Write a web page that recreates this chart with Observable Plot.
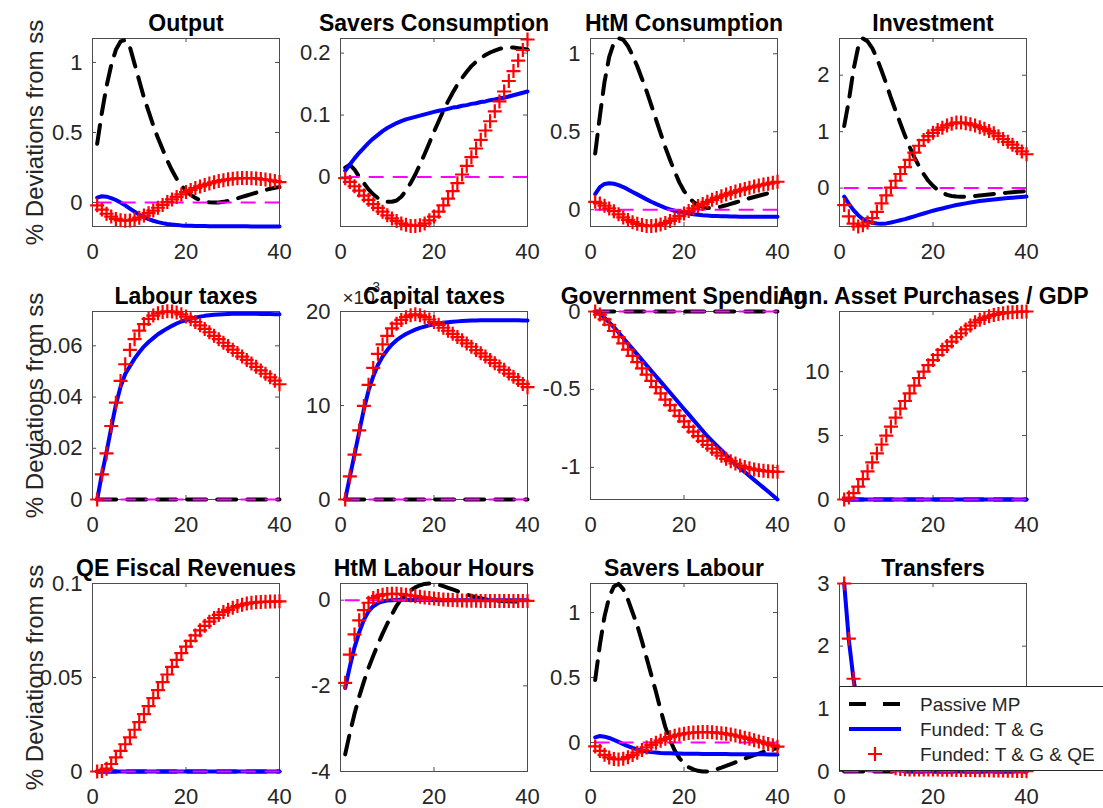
<!DOCTYPE html>
<html><head><meta charset="utf-8">
<script src="https://cdn.jsdelivr.net/npm/d3@7"></script>
<script src="https://cdn.jsdelivr.net/npm/@observablehq/plot@0.6"></script>
<style>
body{margin:0;background:#fff;}
#fig{position:relative;width:1103px;height:808px;overflow:hidden;background:#fff;font-family:"Liberation Sans",Arial,Helvetica,sans-serif;}
#fig svg.panel{position:absolute;overflow:visible;}
#legend{position:absolute;background:#fff;border:1px solid #262626;box-sizing:border-box;}
</style></head><body><div id="fig"></div><script>
// ---------- data ----------
const periods = [1,2,3,4,5,6,7,8,9,10,11,12,13,14,15,16,17,18,19,20,21,22,23,24,25,26,27,28,29,30,31,32,33,34,35,36,37,38,39,40];
const zeros40 = [0,0,0,0,0,0,0,0,0,0,0,0,0,0,0,0,0,0,0,0,0,0,0,0,0,0,0,0,0,0,0,0,0,0,0,0,0,0,0,0];
const seriesNames = ["Passive MP", "Funded: T & G", "Funded: T & G & QE"];
const yLabel = "% Deviations from ss";
const xTicks = [0, 20, 40];

const outputPassive = [0.42,0.64,0.83,0.98,1.09,1.15,1.16,1.11,0.99,0.87,0.75,0.65,0.55,0.46,0.38,0.3,0.23,0.17,0.12,0.085,0.055,0.033,0.017,0.007,0.002,0.0,0.001,0.005,0.012,0.02,0.03,0.04,0.05,0.06,0.07,0.08,0.09,0.098,0.105,0.11];
const outputFunded = [0.035,0.045,0.042,0.032,0.018,0.0,-0.02,-0.043,-0.065,-0.087,-0.104,-0.118,-0.13,-0.14,-0.147,-0.153,-0.157,-0.16,-0.163,-0.165,-0.166,-0.167,-0.168,-0.168,-0.169,-0.169,-0.169,-0.17,-0.17,-0.17,-0.17,-0.17,-0.17,-0.171,-0.171,-0.171,-0.171,-0.171,-0.171,-0.171];
const outputQE = [-0.02,-0.05,-0.08,-0.1,-0.117,-0.127,-0.13,-0.128,-0.12,-0.108,-0.093,-0.076,-0.057,-0.037,-0.017,0.003,0.022,0.04,0.058,0.075,0.09,0.103,0.115,0.126,0.136,0.145,0.153,0.16,0.166,0.17,0.173,0.175,0.175,0.174,0.172,0.168,0.164,0.159,0.153,0.146];

const saversPassive = [0.015,0.02,0.012,0.0,-0.01,-0.02,-0.028,-0.034,-0.038,-0.04,-0.04,-0.038,-0.032,-0.022,-0.01,0.004,0.02,0.037,0.055,0.073,0.09,0.107,0.122,0.136,0.149,0.16,0.17,0.179,0.186,0.192,0.197,0.201,0.204,0.207,0.208,0.209,0.209,0.208,0.207,0.206];
const saversFunded = [0.01,0.02,0.03,0.039,0.047,0.055,0.062,0.068,0.074,0.079,0.083,0.087,0.09,0.093,0.095,0.097,0.099,0.101,0.103,0.105,0.107,0.108,0.11,0.112,0.113,0.115,0.116,0.118,0.119,0.121,0.122,0.124,0.125,0.127,0.128,0.13,0.132,0.134,0.136,0.138];
const saversQE = [-0.002,-0.008,-0.015,-0.022,-0.03,-0.037,-0.044,-0.05,-0.056,-0.062,-0.067,-0.071,-0.075,-0.077,-0.079,-0.079,-0.078,-0.075,-0.07,-0.064,-0.056,-0.046,-0.035,-0.023,-0.01,0.004,0.018,0.032,0.046,0.06,0.075,0.09,0.106,0.122,0.138,0.155,0.171,0.188,0.205,0.222];

const htmPassive = [0.36,0.6,0.82,0.98,1.07,1.1,1.09,1.05,0.99,0.92,0.84,0.76,0.67,0.58,0.49,0.4,0.32,0.245,0.175,0.12,0.08,0.05,0.03,0.017,0.01,0.01,0.013,0.02,0.028,0.037,0.046,0.055,0.064,0.073,0.081,0.089,0.097,0.105,0.112,0.12];
const htmFunded = [0.1,0.145,0.165,0.17,0.166,0.157,0.145,0.13,0.114,0.098,0.082,0.066,0.051,0.037,0.024,0.012,0.002,-0.007,-0.014,-0.02,-0.025,-0.029,-0.033,-0.036,-0.038,-0.04,-0.041,-0.042,-0.043,-0.044,-0.044,-0.045,-0.045,-0.045,-0.046,-0.046,-0.046,-0.046,-0.046,-0.046];
const htmQE = [0.05,0.04,0.025,0.008,-0.01,-0.03,-0.05,-0.066,-0.08,-0.091,-0.099,-0.104,-0.105,-0.102,-0.095,-0.085,-0.072,-0.057,-0.041,-0.024,-0.008,0.008,0.023,0.037,0.05,0.063,0.075,0.086,0.097,0.107,0.116,0.125,0.133,0.141,0.148,0.155,0.161,0.167,0.173,0.179];

const invPassive = [1.1,1.55,2.1,2.5,2.65,2.6,2.48,2.3,2.08,1.85,1.6,1.37,1.15,0.93,0.73,0.55,0.39,0.25,0.13,0.04,-0.03,-0.08,-0.12,-0.14,-0.15,-0.153,-0.15,-0.145,-0.138,-0.13,-0.122,-0.113,-0.104,-0.096,-0.088,-0.08,-0.073,-0.066,-0.06,-0.055];
const invFunded = [-0.15,-0.28,-0.39,-0.48,-0.55,-0.59,-0.615,-0.628,-0.63,-0.625,-0.61,-0.59,-0.57,-0.55,-0.525,-0.5,-0.475,-0.45,-0.425,-0.4,-0.38,-0.36,-0.34,-0.32,-0.3,-0.285,-0.27,-0.255,-0.242,-0.23,-0.219,-0.209,-0.2,-0.192,-0.184,-0.176,-0.169,-0.162,-0.156,-0.15];
const invQE = [-0.3,-0.5,-0.63,-0.68,-0.66,-0.61,-0.53,-0.42,-0.27,-0.13,0.01,0.13,0.25,0.37,0.5,0.63,0.75,0.85,0.92,0.98,1.03,1.07,1.11,1.14,1.16,1.16,1.15,1.13,1.11,1.08,1.05,1.01,0.97,0.92,0.87,0.82,0.77,0.71,0.65,0.6];

const labTaxFunded = [0,0.0098,0.0185,0.028,0.037,0.044,0.049,0.052,0.055,0.0575,0.0597,0.0615,0.063,0.0645,0.0657,0.0668,0.0678,0.0687,0.0695,0.07,0.0706,0.071,0.0714,0.0717,0.0719,0.0721,0.0722,0.0723,0.0724,0.0725,0.0725,0.0725,0.0725,0.0725,0.0725,0.0724,0.0724,0.0724,0.0723,0.0723];
const labTaxQE = [0,0.0098,0.018,0.0287,0.0378,0.0463,0.0528,0.0584,0.0626,0.0659,0.0685,0.0705,0.0718,0.0727,0.0732,0.0735,0.0734,0.073,0.0723,0.0714,0.0704,0.0693,0.068,0.0666,0.0653,0.0639,0.0626,0.0612,0.0599,0.0585,0.0572,0.0558,0.0545,0.0531,0.0518,0.0504,0.0491,0.0477,0.0464,0.045];

// capital taxes, in units of 1e-3
const capTaxFunded = [0,2.4,4.8,7.2,9.6,11.6,13.1,14.3,15.2,15.9,16.5,16.95,17.3,17.6,17.85,18.07,18.25,18.4,18.53,18.64,18.73,18.8,18.86,18.91,18.95,18.98,19.01,19.03,19.05,19.06,19.07,19.08,19.08,19.08,19.08,19.07,19.07,19.06,19.05,19.04];
const capTaxQE = [0,2.46,4.78,7.35,9.95,12.2,14.0,15.5,16.5,17.4,18.2,18.7,19.1,19.4,19.6,19.7,19.6,19.4,19.15,18.88,18.58,18.27,17.95,17.62,17.28,16.94,16.6,16.25,15.9,15.55,15.2,14.85,14.5,14.15,13.8,13.4,13.05,12.7,12.3,11.95];

const govFunded = [0,-0.015,-0.04,-0.07,-0.1,-0.135,-0.17,-0.205,-0.24,-0.275,-0.31,-0.345,-0.38,-0.415,-0.45,-0.485,-0.52,-0.555,-0.59,-0.625,-0.66,-0.695,-0.73,-0.765,-0.8,-0.83,-0.86,-0.89,-0.92,-0.95,-0.98,-1.005,-1.03,-1.055,-1.08,-1.105,-1.13,-1.155,-1.18,-1.206];
const govQE = [0,-0.02,-0.05,-0.085,-0.125,-0.165,-0.205,-0.245,-0.285,-0.325,-0.365,-0.405,-0.445,-0.485,-0.525,-0.565,-0.6,-0.635,-0.67,-0.705,-0.74,-0.77,-0.8,-0.83,-0.855,-0.88,-0.905,-0.925,-0.945,-0.96,-0.975,-0.988,-0.998,-1.006,-1.013,-1.018,-1.022,-1.025,-1.027,-1.028];

const assetQE = [0,0.15,0.5,1.0,1.6,2.2,2.9,3.6,4.3,5.0,5.7,6.4,7.1,7.7,8.3,8.9,9.5,10.0,10.5,10.9,11.3,11.7,12.0,12.35,12.7,13.0,13.3,13.6,13.85,14.05,14.2,14.33,14.43,14.51,14.57,14.62,14.65,14.67,14.69,14.7];

const qeRevQE = [0,0.0003,0.0015,0.004,0.0075,0.011,0.0145,0.0182,0.0222,0.0263,0.0305,0.0348,0.039,0.0433,0.0475,0.0516,0.0556,0.0594,0.063,0.0664,0.0695,0.0724,0.0751,0.0775,0.0797,0.0816,0.0833,0.0848,0.086,0.0871,0.088,0.0887,0.0893,0.0897,0.09,0.0902,0.0903,0.0904,0.0904,0.0905];

const htmHoursPassive = [-3.6,-3.1,-2.65,-2.25,-1.9,-1.58,-1.3,-1.03,-0.78,-0.55,-0.33,-0.13,0.03,0.14,0.23,0.3,0.35,0.38,0.39,0.38,0.36,0.33,0.29,0.25,0.21,0.17,0.13,0.1,0.07,0.045,0.025,0.008,-0.005,-0.015,-0.022,-0.027,-0.03,-0.032,-0.032,-0.03];
const htmHoursFunded = [-2.05,-1.55,-1.1,-0.75,-0.46,-0.26,-0.14,-0.07,-0.03,-0.01,0.0,0.005,0.008,0.008,0.007,0.006,0.005,0.004,0.003,0.002,0.001,0,0,0,0,0,0,0,0,0,0,0,0,0,0,0,0,0,0,0];
const htmHoursQE = [-1.93,-1.27,-0.8,-0.47,-0.23,-0.06,0.05,0.1,0.13,0.145,0.15,0.15,0.14,0.125,0.11,0.095,0.08,0.065,0.05,0.038,0.027,0.017,0.009,0.002,-0.004,-0.008,-0.011,-0.013,-0.015,-0.016,-0.017,-0.018,-0.018,-0.018,-0.018,-0.018,-0.018,-0.018,-0.018,-0.018];

const savLabPassive = [0.48,0.75,0.97,1.12,1.2,1.22,1.18,1.1,1.0,0.9,0.78,0.65,0.52,0.39,0.25,0.12,0.02,-0.06,-0.12,-0.16,-0.19,-0.207,-0.218,-0.223,-0.222,-0.215,-0.205,-0.193,-0.18,-0.166,-0.152,-0.138,-0.124,-0.11,-0.097,-0.085,-0.073,-0.062,-0.052,-0.043];
const savLabFunded = [0.04,0.05,0.045,0.035,0.02,0.005,-0.012,-0.028,-0.042,-0.053,-0.062,-0.069,-0.074,-0.077,-0.08,-0.082,-0.083,-0.084,-0.085,-0.086,-0.086,-0.087,-0.087,-0.088,-0.088,-0.088,-0.089,-0.089,-0.089,-0.09,-0.09,-0.09,-0.09,-0.091,-0.091,-0.091,-0.091,-0.092,-0.092,-0.092];
const savLabQE = [-0.03,-0.065,-0.095,-0.115,-0.127,-0.13,-0.125,-0.113,-0.097,-0.078,-0.058,-0.038,-0.019,-0.002,0.014,0.028,0.041,0.052,0.061,0.068,0.073,0.077,0.079,0.08,0.08,0.079,0.076,0.072,0.067,0.061,0.054,0.046,0.037,0.028,0.018,0.008,-0.002,-0.012,-0.022,-0.032];

const transFunded = [3.0,2.1,1.47,1.03,0.72,0.5,0.35,0.24,0.16,0.1,0.06,0.035,0.02,0.01,0.005,0.002,0,0,0,0,0,0,0,0,0,0,0,0,0,0,0,0,0,0,0,0,0,0,0,0];
const transQE = [3.0,2.12,1.48,1.04,0.73,0.51,0.36,0.25,0.17,0.11,0.07,0.05,0.04,0.035,0.03,0.03,0.03,0.03,0.03,0.03,0.03,0.028,0.027,0.026,0.025,0.024,0.023,0.022,0.021,0.02,0.019,0.018,0.017,0.016,0.014,0.012,0.01,0.008,0.006,0.004];

const panels = [
  {title: "Output", domain: [-0.171, 1.171], ticks: [0, 0.5, 1], passive: outputPassive, funded: outputFunded, qe: outputQE},
  {title: "Savers Consumption", domain: [-0.08, 0.2236], ticks: [0, 0.1, 0.2], passive: saversPassive, funded: saversFunded, qe: saversQE},
  {title: "HtM Consumption", domain: [-0.108, 1.098], ticks: [0, 0.5, 1], passive: htmPassive, funded: htmFunded, qe: htmQE},
  {title: "Investment", domain: [-0.68, 2.65], ticks: [0, 1, 2], passive: invPassive, funded: invFunded, qe: invQE},
  {title: "Labour taxes", domain: [0, 0.0734], ticks: [0, 0.02, 0.04, 0.06], passive: zeros40, funded: labTaxFunded, qe: labTaxQE},
  {title: "Capital taxes", domain: [0, 20], ticks: [0, 10, 20], passive: zeros40, funded: capTaxFunded, qe: capTaxQE, exponent: true},
  {title: "Government Spending", domain: [-1.206, 0], ticks: [-1, -0.5, 0], passive: zeros40, funded: govFunded, qe: govQE},
  {title: "Ann. Asset Purchases / GDP", domain: [0, 14.7], ticks: [0, 5, 10], passive: zeros40, funded: zeros40, qe: assetQE},
  {title: "QE Fiscal Revenues", domain: [0, 0.1], ticks: [0, 0.05, 0.1], passive: zeros40, funded: zeros40, qe: qeRevQE},
  {title: "HtM Labour Hours", domain: [-4, 0.39], ticks: [-4, -2, 0], passive: htmHoursPassive, funded: htmHoursFunded, qe: htmHoursQE},
  {title: "Savers Labour", domain: [-0.223, 1.223], ticks: [0, 0.5, 1], passive: savLabPassive, funded: savLabFunded, qe: savLabQE},
  {title: "Transfers", domain: [0, 3], ticks: [0, 1, 2, 3], passive: zeros40, funded: transFunded, qe: transQE}
];

// ---------- layout ----------
const FW = 187, FH = 188;
const colX = [92, 340, 590, 839];
const rowY = [38, 311, 583];
const ML = 95, MR = 80, MT = 45, MB = 45;
const FONT = "'Liberation Sans', Arial, Helvetica, sans-serif";
const AX = "#262626", FRAME = "#4d4d4d";
const C_PASSIVE = "#000000", C_FUNDED = "#0000ff", C_QE = "#ff0000", C_SS = "#ff00ff";
const DASH_PASSIVE = "19,11", DASH_SS = "15,9";

const plusSymbol = {draw(ctx, size) { const r = Math.sqrt(size / Math.PI); ctx.moveTo(-r, 0); ctx.lineTo(r, 0); ctx.moveTo(0, -r); ctx.lineTo(0, r); }};

const fig = document.getElementById("fig");

panels.forEach((p, i) => {
  const col = i % 4, row = Math.floor(i / 4);
  const rows = vals => periods.map((t, k) => ({t, v: vals[k]}));
  const marks = [
    Plot.frame({stroke: FRAME, strokeWidth: 1}),
    Plot.ruleX(xTicks, {x: d => d, insetTop: FH - 4, stroke: FRAME}),
    Plot.ruleX(xTicks, {x: d => d, insetBottom: FH - 4, stroke: FRAME}),
    Plot.ruleY(p.ticks, {y: d => d, insetRight: FW - 4, stroke: FRAME}),
    Plot.ruleY(p.ticks, {y: d => d, insetLeft: FW - 4, stroke: FRAME}),
    Plot.axisX({ticks: xTicks, anchor: "bottom", tickSize: 0, tickPadding: 17, tickFormat: d => String(d), fontSize: 22, label: null, fill: AX}),
    Plot.axisY({ticks: p.ticks, anchor: "left", tickSize: 0, tickPadding: 10, tickFormat: d => String(d), fontSize: 22, label: null, fill: AX}),
    Plot.lineY(rows(p.passive), {x: "t", y: "v", stroke: C_PASSIVE, strokeWidth: 4, strokeDasharray: DASH_PASSIVE}),
    Plot.lineY(rows(p.funded), {x: "t", y: "v", stroke: C_FUNDED, strokeWidth: 4}),
    Plot.ruleY([0], {x1: 1, x2: 40, stroke: C_SS, strokeWidth: 2, strokeDasharray: DASH_SS}),
    Plot.dot(rows(p.qe), {x: "t", y: "v", symbol: plusSymbol, r: 7, stroke: C_QE, strokeWidth: 2.2, fill: "none"})
  ];
  if (p.exponent) {
    marks.push(Plot.text(["\u00d710"], {frameAnchor: "top-left", textAnchor: "start", lineAnchor: "bottom", dx: 2, dy: -8, fontSize: 19, fill: AX}));
    marks.push(Plot.text(["-3"], {frameAnchor: "top-left", textAnchor: "start", lineAnchor: "bottom", dx: 27, dy: -20, fontSize: 14, fill: AX}));
  }
  marks.push(Plot.text([p.title], {frameAnchor: "top", textAnchor: "middle", lineAnchor: "bottom", dy: -8, fontSize: 23, fontWeight: "bold", fill: "#000"}));
  if (col === 0) {
    marks.push(Plot.text([yLabel], {frameAnchor: "left", textAnchor: "middle", rotate: -90, lineAnchor: "bottom", dx: -50, fontSize: 24, fill: AX}));
  }
  const svg = Plot.plot({
    width: FW + ML + MR, height: FH + MT + MB,
    marginLeft: ML, marginRight: MR, marginTop: MT, marginBottom: MB,
    style: {background: "transparent", overflow: "visible", fontFamily: FONT},
    x: {domain: [0, 40], axis: null},
    y: {domain: p.domain, axis: null},
    marks
  });
  svg.classList.add("panel");
  svg.style.left = (colX[col] - ML) + "px";
  svg.style.top = (rowY[row] - MT) + "px";
  svg.style.maxWidth = "none";
  fig.appendChild(svg);
});

// ---------- legend (inside Transfers panel, lower left) ----------
const lg = document.createElement("div");
lg.id = "legend";
const LX = colX[3], LY = 686, LW = 280, LH = rowY[2] + FH - LY;
lg.style.left = LX + "px"; lg.style.top = LY + "px";
lg.style.width = LW + "px"; lg.style.height = LH + "px";
fig.appendChild(lg);
const ls = d3.select(lg).append("svg").attr("width", LW).attr("height", LH).style("display", "block").style("overflow", "visible");
const rowsY = [17, 42, 67];
seriesNames.forEach((name, k) => {
  const y = rowsY[k];
  if (k === 0) ls.append("line").attr("x1", 9).attr("x2", 61).attr("y1", y).attr("y2", y).attr("stroke", C_PASSIVE).attr("stroke-width", 4).attr("stroke-dasharray", "17,17");
  if (k === 1) ls.append("line").attr("x1", 9).attr("x2", 61).attr("y1", y).attr("y2", y).attr("stroke", C_FUNDED).attr("stroke-width", 4);
  if (k === 2) ls.append("path").attr("d", `M${35-7},${y}H${35+7}M35,${y-7}V${y+7}`).attr("stroke", C_QE).attr("stroke-width", 2.2).attr("fill", "none");
  ls.append("text").attr("x", 80).attr("y", y).attr("dy", "0.35em").attr("font-size", 19).attr("font-family", FONT).attr("fill", AX).text(name);
});
</script></body></html>
